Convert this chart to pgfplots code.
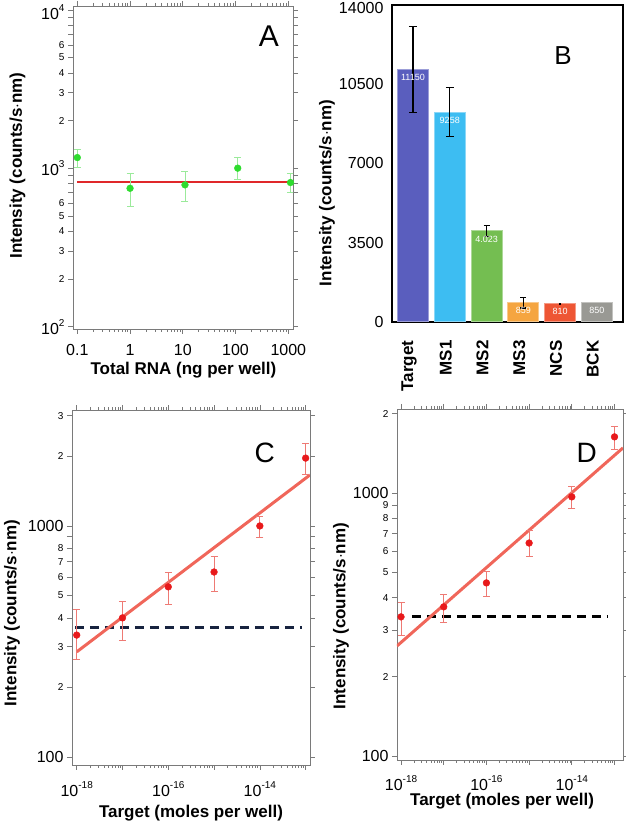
\documentclass[border=0pt]{standalone}
\usepackage{pgfplots}
\pgfplotsset{compat=1.18}
\usepackage{fontspec}
\setmainfont{Liberation Sans}
\definecolor{gpt}{HTML}{2EDC2E}
\definecolor{gerr}{HTML}{9BEA9B}
\definecolor{rline}{HTML}{E0282A}
\definecolor{rpt}{HTML}{E8191B}
\definecolor{salmon}{HTML}{F0665A}
\definecolor{serr}{HTML}{EE7A74}
\definecolor{navy}{HTML}{17233F}
\definecolor{frame}{HTML}{7A7A7A}
\definecolor{cT}{HTML}{5A5EBE}
\definecolor{cM1}{HTML}{3DBDF2}
\definecolor{cM2}{HTML}{74BE51}
\definecolor{cM3}{HTML}{F5A540}
\definecolor{cN}{HTML}{EE5634}
\definecolor{cB}{HTML}{999994}
\newcommand{\maj}{\fontsize{16}{16}\selectfont}
\newcommand{\mnr}{\fontsize{10}{10}\selectfont}
\newcommand{\tp}[1]{10\raisebox{0.5em}{\fontsize{10}{10}\selectfont #1}}
\newcommand{\dn}[2]{\raisebox{-#1}[\height][\depth]{#2}}
\pgfplotsset{
  panel/.style={scale only axis, anchor=north west,
    axis line style={draw=frame, line width=0.8pt},
    tick align=outside,
    tick style={draw=frame, line width=0.7pt},
    major tick length=5pt, minor tick length=3pt,
    label style={font=\fontsize{17}{17}\selectfont\bfseries},
    tick label style={font=\maj},
    yminorticks=false},
  erbar/.style={error bars/.cd, y dir=both, y explicit}
}
\begin{document}
\begin{tikzpicture}
\path[use as bounding box] (0,0) rectangle (625pt,824pt);
% ---------------- A ----------------
\begin{axis}[panel, at={(73pt,818pt)}, width=220pt, height=323pt,
  xmode=log, ymode=log, xmin=0.0829, xmax=1228, ymin=96.7, ymax=10590,
  xtick={0.1,1,10,100,1000}, xticklabels={0.1,1,10,100,1000},
  xticklabel style={yshift=-7pt},
  minor xtick={0.2,0.3,0.4,0.5,0.6,0.7,0.8,0.9,2,3,4,5,6,7,8,9,20,30,40,50,60,70,80,90,200,300,400,500,600,700,800,900},
  ytick={100,200,300,400,500,600,700,800,900,1000,2000,3000,4000,5000,6000,7000,8000,9000,10000},
  yticklabels={\tp{2},\mnr 2,\mnr 3,\mnr 4,\mnr 5,\mnr 6,{},{},{},\tp{3},\mnr 2,\mnr 3,\mnr 4,\mnr 5,\mnr 6,{},{},{},\dn{2.5pt}{\tp{4}}},
  xlabel={Total RNA (ng per well)}, ylabel={Intensity (counts/s$\cdot$nm)},
  xlabel style={at={(axis description cs:0.502,-0.126)}, anchor=center},
  ylabel style={at={(axis description cs:-0.252,0.506)}, anchor=center},
]
\addplot[rline, line width=2.5pt] coordinates {(0.1,820) (1080,820)};
\addplot[only marks, mark=*, mark size=3.4pt, gpt,
  erbar, error bar style={gerr, line width=0.9pt},
  error mark options={gerr, rotate=90, mark size=3.5pt, line width=0.9pt}]
  coordinates {
  (0.1,1169) += (0,149) -= (0,153)
  (1,748) += (0,174) -= (0,175)
  (11,786) += (0,167) -= (0,164)
  (110,1002) += (0,173) -= (0,157)
  (1100,813) += (0,109) -= (0,110)
  };
\node[font=\fontsize{30}{30}\selectfont] at (axis description cs:0.89,0.905) {A};
\end{axis}
% ---------------- B ----------------
\begin{axis}[panel, at={(392pt,819pt)}, width=231pt, height=317pt,
  axis line style={draw=black, line width=1.1pt},
  xmin=-0.57, xmax=5.71, ymin=0, ymax=14000,
  ytick={0,3500,7000,10500,14000}, yticklabels={0,3500,7000,10500,\dn{3pt}{14000}},
  xtick={0,1,2,3,4,5}, xticklabels={Target,MS1,MS2,MS3,NCS,BCK},
  tick style={draw=none},
  xticklabel style={rotate=90, anchor=east, xshift=-10pt, yshift=4pt, font=\fontsize{17}{17}\selectfont\bfseries},
  ylabel={Intensity (counts/s$\cdot$nm)},
  ylabel style={at={(axis description cs:-0.281,0.407)}, anchor=center},
  nodes near coords, point meta=explicit symbolic,
  nodes near coords style={font=\fontsize{9}{9}\selectfont, text=white, anchor=north, yshift=-1pt},
]
\addplot[ybar, bar width=31pt, bar shift=0pt, fill=cT, draw=cT!60!white, line width=1pt, erbar, error bar style={black, line width=1.1pt}, error mark options={black, rotate=90, mark size=4pt, line width=1.1pt}] coordinates {(0,11150) +- (0,1900) [11150]};
\addplot[ybar, bar width=31pt, bar shift=0pt, fill=cM1, draw=cM1!60!white, line width=1pt, erbar, error bar style={black, line width=1.1pt}, error mark options={black, rotate=90, mark size=4pt, line width=1.1pt}] coordinates {(1,9258) +- (0,1080) [9258]};
\addplot[ybar, bar width=31pt, bar shift=0pt, fill=cM2, draw=cM2!60!white, line width=1pt, erbar, error bar style={black, line width=1.1pt}, error mark options={black, rotate=90, mark size=3pt, line width=1.1pt}] coordinates {(2,4023) +- (0,240) [4.023]};
\addplot[ybar, bar width=31pt, bar shift=0pt, fill=cM3, draw=cM3!60!white, line width=1pt, erbar, error bar style={black, line width=1.1pt}, error mark options={black, rotate=90, mark size=3pt, line width=1.1pt}] coordinates {(3,859) +- (0,240) [859]};
\addplot[ybar, bar width=31pt, bar shift=0pt, fill=cN, draw=cN!60!white, line width=1pt, erbar, error bar style={black, line width=0.8pt}, error mark options={black, rotate=90, mark size=1pt, line width=0.8pt}] coordinates {(4,810) +- (0,20) [810]};
\addplot[ybar, bar width=31pt, bar shift=0pt, fill=cB, draw=cB!60!white, line width=1pt] coordinates {(5,850) [850]};
\node[font=\fontsize{26}{26}\selectfont] at (axis description cs:0.74,0.842) {B};
\end{axis}
% ---------------- C ----------------
\begin{axis}[panel, at={(72pt,414pt)}, width=238pt, height=355pt,
  xmode=log, ymode=log, xmin=7.89e-19, xmax=1.245e-13, ymin=92.3, ymax=3177,
  xtick={1e-18,1e-17,1e-16,1e-15,1e-14,1e-13},
  xticklabels={\tp{-18},{},\tp{-16},{},\tp{-14},{}},
  xticklabel style={yshift=-8pt},
  minor xtick={2e-18,3e-18,4e-18,5e-18,6e-18,7e-18,8e-18,9e-18,2e-17,3e-17,4e-17,5e-17,6e-17,7e-17,8e-17,9e-17,2e-16,3e-16,4e-16,5e-16,6e-16,7e-16,8e-16,9e-16,2e-15,3e-15,4e-15,5e-15,6e-15,7e-15,8e-15,9e-15,2e-14,3e-14,4e-14,5e-14,6e-14,7e-14,8e-14,9e-14},
  ytick={100,200,300,400,500,600,700,800,900,1000,2000,3000},
  yticklabels={100,\mnr 2,\mnr 3,\mnr 4,\mnr 5,\mnr 6,\mnr 7,\mnr 8,{},1000,\mnr 2,\mnr 3},
  xlabel={Target (moles per well)}, ylabel={Intensity (counts/s$\cdot$nm)},
  xlabel style={at={(axis description cs:0.5,-0.135)}, anchor=center},
  ylabel style={at={(axis description cs:-0.252,0.428)}, anchor=center},
]
\addplot[navy, line width=3pt, dash pattern=on 9pt off 6pt] coordinates {(9.1e-19,362) (8.5e-14,362)};
\addplot[salmon, line width=3pt] coordinates {(1e-18,285) (1.245e-13,1663)};
\addplot[only marks, mark=*, mark size=3.4pt, rpt,
  erbar, error bar style={serr, line width=0.9pt},
  error mark options={serr, rotate=90, mark size=3.5pt, line width=0.9pt}]
  coordinates {
  (1e-18,337) += (0,100) -= (0,74)
  (1e-17,400) += (0,73) -= (0,79)
  (1e-16,545) += (0,87) -= (0,86)
  (1e-15,632) += (0,109) -= (0,109)
  (1e-14,1000) += (0,94) -= (0,104)
  (1e-13,1967) += (0,319) -= (0,304)
  };
\node[font=\fontsize{28}{28}\selectfont] at (axis description cs:0.81,0.879) {C};
\end{axis}
% ---------------- D ----------------
\begin{axis}[panel, at={(397pt,415pt)}, width=226pt, height=351pt,
  xmode=log, ymode=log, xmin=8.05e-19, xmax=1.58e-13, ymin=96.6, ymax=2084,
  xtick={1e-18,1e-17,1e-16,1e-15,1e-14,1e-13},
  xticklabels={\tp{-18},{},\tp{-16},{},\tp{-14},{}},
  xticklabel style={yshift=-7pt},
  minor xtick={2e-18,3e-18,4e-18,5e-18,6e-18,7e-18,8e-18,9e-18,2e-17,3e-17,4e-17,5e-17,6e-17,7e-17,8e-17,9e-17,2e-16,3e-16,4e-16,5e-16,6e-16,7e-16,8e-16,9e-16,2e-15,3e-15,4e-15,5e-15,6e-15,7e-15,8e-15,9e-15,2e-14,3e-14,4e-14,5e-14,6e-14,7e-14,8e-14,9e-14},
  ytick={100,200,300,400,500,600,700,800,900,1000,2000},
  yticklabels={100,\mnr 2,\mnr 3,\mnr 4,\mnr 5,\mnr 6,\mnr 7,\mnr 8,\mnr 9,1000,\mnr 2},
  xlabel={Target (moles per well)}, ylabel={Intensity (counts/s$\cdot$nm)},
  xlabel style={at={(axis description cs:0.465,-0.118)}, anchor=center},
  ylabel style={at={(axis description cs:-0.248,0.41)}, anchor=center},
]
\addplot[black, line width=3pt, dash pattern=on 9pt off 6pt] coordinates {(1.8e-18,338) (6.9e-14,338)};
\addplot[salmon, line width=3pt] coordinates {(8.05e-19,262) (1.58e-13,1483)};
\addplot[only marks, mark=*, mark size=3.4pt, rpt,
  erbar, error bar style={serr, line width=0.9pt},
  error mark options={serr, rotate=90, mark size=3.5pt, line width=0.9pt}]
  coordinates {
  (1e-18,338) += (0,44) -= (0,50)
  (1e-17,369) += (0,44) -= (0,46)
  (1e-16,455) += (0,46) -= (0,50)
  (1e-15,645) += (0,73) -= (0,74)
  (1e-14,966) += (0,88) -= (0,97)
  (1e-13,1633) += (0,150) -= (0,164)
  };
\node[font=\fontsize{28}{28}\selectfont] at (axis description cs:0.84,0.875) {D};
\end{axis}
\end{tikzpicture}
\end{document}
